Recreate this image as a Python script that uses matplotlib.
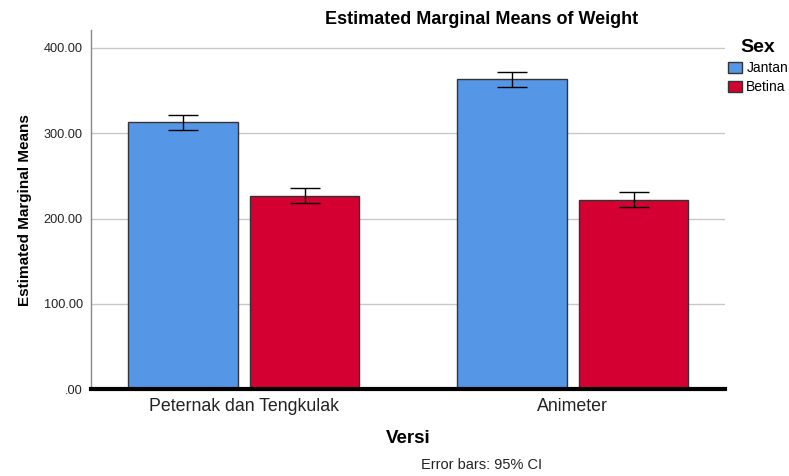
import numpy as np
import matplotlib.pyplot as plt

# Data
versi = ['Peternak dan Tengkulak', 'Animeter']
sex = ['Jantan', 'Betina']
means_jantan = [313.0, 363.0]
means_betina = [227.0, 222.0]
ci_jantan = [8.7, 9.0]
ci_betina = [8.7, 8.8]
yticks = [0, 100, 200, 300, 400]
ytick_labels = ['.00', '100.00', '200.00', '300.00', '400.00']

color_jantan = '#5596E6'
color_betina = '#D50032'

plt.rcParams['font.family'] = ['Liberation Sans', 'DejaVu Sans']

fig = plt.figure(figsize=(7.89, 4.76), dpi=100)
axx = fig.add_axes([0.1153, 0.1821, 0.8036, 0.7549])

x = np.arange(len(versi))
width = 0.3325
offset = 0.185

axx.bar(x - offset, means_jantan, width, color=color_jantan, edgecolor='#333333',
        linewidth=1.0, label=sex[0], zorder=3)
axx.bar(x + offset, means_betina, width, color=color_betina, edgecolor='#333333',
        linewidth=1.0, label=sex[1], zorder=3)
axx.errorbar(x - offset, means_jantan, yerr=ci_jantan, fmt='none', ecolor='black',
             elinewidth=1.0, capsize=11, capthick=1.0, zorder=4)
axx.errorbar(x + offset, means_betina, yerr=ci_betina, fmt='none', ecolor='black',
             elinewidth=1.0, capsize=11, capthick=1.0, zorder=4)

axx.set_xlim(-0.4644, 1.4626)
axx.set_ylim(0, 421)
axx.set_yticks(yticks)
axx.set_yticklabels(ytick_labels, fontsize=9.2, color='#222222')
axx.set_xticks(x)
axx.set_xticklabels(versi, fontsize=12.8, color='#222222')
axx.tick_params(axis='y', length=0, pad=6)
axx.tick_params(axis='x', length=0, pad=6)
axx.yaxis.grid(True, color='#c8c8c8', linewidth=1.0, zorder=0)
axx.set_axisbelow(True)

for side in ['top', 'right']:
  axx.spines[side].set_visible(False)
axx.spines['left'].set_color('#888888')
axx.spines['left'].set_linewidth(1.0)
axx.spines['bottom'].set_color('black')
axx.spines['bottom'].set_linewidth(3.0)
axx.spines['bottom'].set_zorder(5)

axx.set_ylabel('Estimated Marginal Means', fontsize=11, fontweight='bold',
               family=['Liberation Sans Narrow', 'Liberation Sans', 'DejaVu Sans'], labelpad=8)
axx.set_xlabel('Versi', fontsize=13.5, fontweight='bold', labelpad=11)

fig.text(482 / 789, 1 - 20 / 476, 'Estimated Marginal Means of Weight', fontsize=13,
         fontweight='bold', ha='center', va='center')
fig.text(482 / 789, 1 - 465 / 476, 'Error bars: 95% CI', fontsize=10.5,
         ha='center', va='center', color='#222222')

leg = fig.legend(title='Sex', loc='upper left', bbox_to_anchor=(0.916, 0.929), frameon=False,
                 fontsize=10, title_fontproperties={'weight': 'bold', 'size': 14},
                 handlelength=1.0, handleheight=0.85, handletextpad=0.3, labelspacing=0.35,
                 borderaxespad=0.0, borderpad=0.4)
for h in leg.legend_handles:
  h.set_edgecolor('#333333')

fig.savefig('out.png', dpi=100)
